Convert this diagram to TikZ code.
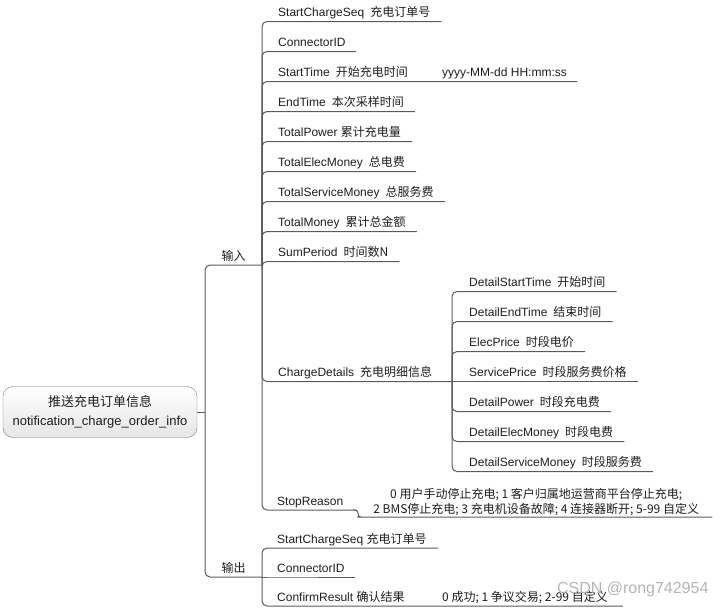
\documentclass[tikz,border=0pt]{standalone}
\usepackage{fontspec}
\setmainfont{Liberation Sans}
\newfontfamily\zh{Noto Sans CJK SC}
\usepackage{xcolor}
\definecolor{linegray}{RGB}{90,90,90}
\definecolor{textgray}{RGB}{30,30,30}
\definecolor{boxgray}{RGB}{125,125,125}
\definecolor{markgray}{RGB}{180,180,180}

\begin{document}
\begin{tikzpicture}[x=1pt, y=-1pt,
    branch/.style={draw=linegray, line width=1pt, rounded corners=5pt},
    leaf/.style={anchor=south west, inner xsep=0pt, inner ysep=4.5pt, text depth=0pt, text=textgray, font=\fontsize{12}{14}\selectfont},
    side/.style={anchor=south, inner xsep=0pt, inner ysep=4.5pt, text depth=0pt, text=textgray, font=\zh\fontsize{12}{14}\selectfont}]
    \useasboundingbox (0,0) rectangle (728,608);

    % Root
    \node[draw=boxgray, rounded corners=10pt, top color=white, bottom color=gray!20, minimum width=194pt, minimum height=51pt, align=center, text=textgray, font=\fontsize{13}{19}\selectfont] (root) at (100,412) {{\zh 推送充电订单信息}\\notification\_charge\_order\_info};
    \coordinate (rootJ) at (205,412);
    \coordinate (inJ) at (262,265);
    \coordinate (outJ) at (262,577);
    \draw[branch] (root) -- (rootJ);
    \draw[branch] (rootJ) |- (inJ) node[side, pos=0.75] (inp) {输入};
    \draw[branch] (rootJ) |- (outJ) node[side, pos=0.75] (outp) {输出};

    % Input
    \node[leaf] (ss) at (278,21.5) {StartChargeSeq\hspace{6pt}\zh 充电订单号};
    \node[leaf] (cid) at (278,51.5) {ConnectorID};
    \node[leaf] (st) at (278,81.5) {StartTime\hspace{6pt}\zh 开始充电时间};
    \node[leaf] (stv) at (442,81.5) {yyyy-MM-dd HH:mm:ss};
    \node[leaf] (et) at (278,111.5) {EndTime\hspace{6pt}\zh 本次采样时间};
    \node[leaf] (tp) at (278,141.5) {TotalPower \zh 累计充电量};
    \node[leaf] (tem) at (278,171.5) {TotalElecMoney\hspace{6pt}\zh 总电费};
    \node[leaf] (tsm) at (278,201.5) {TotalServiceMoney\hspace{6pt}\zh 总服务费};
    \node[leaf] (tm) at (278,231.5) {TotalMoney\hspace{6pt}\zh 累计总金额};
    \node[leaf] (spd) at (278,261.5) {SumPeriod\hspace{6pt}\zh 时间数N};
    \node[leaf] (cd) at (278,381.5) {ChargeDetails\hspace{6pt}\zh 充电明细信息};
    \node[leaf] (sr) at (277,510) {StopReason};
    \draw[branch] (inJ) |- (ss.south west) -- ([xshift=11pt]ss.south east);
    \draw[branch] (inJ) |- (cid.south west) -- ([xshift=10pt]cid.south east);
    \draw[branch] (inJ) |- (st.south west) -- (stv.south west) -- ([xshift=10pt]stv.south east);
    \draw[branch] (inJ) |- (et.south west) -- ([xshift=11pt]et.south east);
    \draw[branch] (inJ) |- (tp.south west) -- ([xshift=11pt]tp.south east);
    \draw[branch] (inJ) |- (tem.south west) -- ([xshift=11pt]tem.south east);
    \draw[branch] (inJ) |- (tsm.south west) -- ([xshift=11pt]tsm.south east);
    \draw[branch] (inJ) |- (tm.south west) -- ([xshift=11pt]tm.south east);
    \draw[branch] (inJ) |- (spd.south west) -- ([xshift=11pt]spd.south east);

    % Charge details
    \coordinate (cdJ) at (452,381.5);
    \node[leaf] (d1) at (469,291.5) {DetailStartTime\hspace{6pt}\zh 开始时间};
    \node[leaf] (d2) at (469,321.5) {DetailEndTime\hspace{6pt}\zh 结束时间};
    \node[leaf] (d3) at (469,351.5) {ElecPrice\hspace{6pt}\zh 时段电价};
    \node[leaf] (d4) at (469,381.5) {ServicePrice\hspace{6pt}\zh 时段服务费价格};
    \node[leaf] (d5) at (469,411.5) {DetailPower\hspace{6pt}\zh 时段充电费};
    \node[leaf] (d6) at (469,441.5) {DetailElecMoney\hspace{6pt}\zh 时段电费};
    \node[leaf] (d7) at (469,471.5) {DetailServiceMoney\hspace{6pt}\zh 时段服务费};
    \draw[branch] (inJ) |- (cd.south west) -- (cdJ);
    \draw[branch] (cdJ) |- (d1.south west) -- ([xshift=11pt]d1.south east);
    \draw[branch] (cdJ) |- (d2.south west) -- ([xshift=11pt]d2.south east);
    \draw[branch] (cdJ) |- (d3.south west) -- ([xshift=11pt]d3.south east);
    \draw[branch] (cdJ) -- (d4.south west) -- ([xshift=11pt]d4.south east);
    \draw[branch] (cdJ) |- (d5.south west) -- ([xshift=11pt]d5.south east);
    \draw[branch] (cdJ) |- (d6.south west) -- ([xshift=11pt]d6.south east);
    \draw[branch] (cdJ) |- (d7.south west) -- ([xshift=11pt]d7.south east);

    % Stop reason
    \coordinate (srJ) at (356,510);
    \node[leaf, minimum width=352pt, align=center, inner ysep=3.5pt, font=\zh\fontsize{12}{15}\selectfont] (srv) at (360,517) {0 用户手动停止充电; 1 客户归属地运营商平台停止充电;\\2 BMS停止充电; 3 充电机设备故障; 4 连接器断开; 5-99 自定义};
    \draw[branch] (inJ) |- (sr.south west) -- (srJ);
    \draw[branch, rounded corners=3pt] (srJ) -- ++(2,0) |- (srv.south west) -- (srv.south east);

    % Output
    \node[leaf] (oss) at (277,548) {StartChargeSeq \zh 充电订单号};
    \node[leaf] (ocid) at (277,577) {ConnectorID};
    \node[leaf] (cr) at (277,606) {ConfirmResult \zh 确认结果};
    \node[leaf, font=\zh\fontsize{12}{14}\selectfont] (crv) at (442,606) {0 成功; 1 争议交易; 2-99 自定义};
    \draw[branch] (outJ) |- (oss.south west) -- ([xshift=11pt]oss.south east);
    \draw[branch] (outJ) -- (ocid.south west) -- ([xshift=10pt]ocid.south east);
    \draw[branch] (outJ) |- (cr.south west) -- (crv.south west) -- ([xshift=15pt]crv.south east);

    \node[text=markgray, font=\fontsize{16}{16}\selectfont, anchor=east] (mark) at (712,589) {CSDN @rong742954};
\end{tikzpicture}
\end{document}
